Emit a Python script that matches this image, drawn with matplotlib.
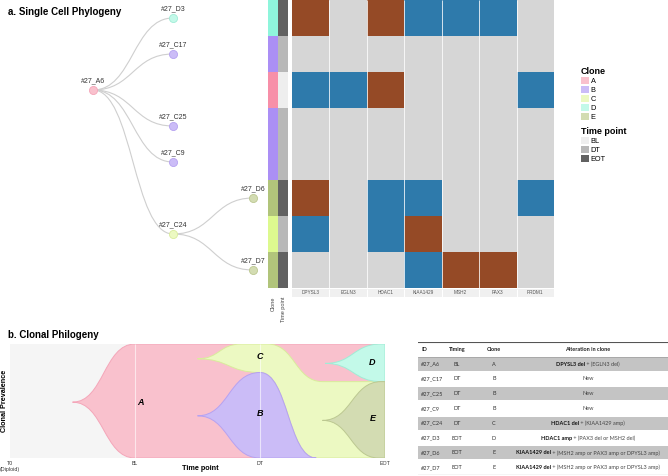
import numpy as np
import matplotlib
matplotlib.use("Agg")
import matplotlib.pyplot as plt
from matplotlib.path import Path
from matplotlib.patches import PathPatch, Patch
from matplotlib.colors import ListedColormap, to_rgb

plt.rcParams['font.family'] = ['Liberation Sans', 'DejaVu Sans']

W, H = 668, 476

# ---- single cell data (rows top to bottom) ----
cells = ["#27_D3", "#27_C17", "#27_A6", "#27_C25", "#27_C9", "#27_D6", "#27_C24", "#27_D7"]
cell_parent = ["#27_A6", "#27_A6", None, "#27_A6", "#27_A6", "#27_C24", "#27_A6", "#27_C24"]
cell_clone = ["D", "B", "A", "B", "B", "E", "C", "E"]
cell_time = ["EOT", "DT", "BL", "DT", "DT", "EOT", "DT", "EOT"]
genes = ["DPYSL3", "EGLN3", "HDAC1", "KIAA1429", "MSH2", "PAX3", "PRDM1"]
# 0 = neutral, 1 = amp (brown), 2 = del (blue)
cna = [
    [1, 0, 1, 2, 2, 2, 0],
    [0, 0, 0, 0, 0, 0, 0],
    [2, 2, 1, 0, 0, 0, 2],
    [0, 0, 0, 0, 0, 0, 0],
    [0, 0, 0, 0, 0, 0, 0],
    [1, 0, 2, 2, 0, 0, 2],
    [2, 0, 2, 1, 0, 0, 0],
    [0, 0, 0, 2, 1, 1, 0],
]

clones = ["A", "B", "C", "D", "E"]
timepoints = ["BL", "DT", "EOT"]
clone_col = {"A": "#f78fa8", "B": "#ab8ff5", "C": "#ddf98f", "D": "#8ff5dc", "E": "#b1c47b"}
clone_light = {"A": "#f9c1cd", "B": "#cbbcf7", "C": "#ecf9c2", "D": "#c3f9e9", "E": "#d3dcb2"}
clone_edge = {"A": "#f4a6b9", "B": "#b6a2f1", "C": "#d9ec9c", "D": "#a0ecd6", "E": "#bcc891"}
time_col = {"BL": "#eeeeee", "DT": "#b8b8b8", "EOT": "#616161"}

# ---- fish plot data (x: T0=0, BL=1, DT=2, EOT=3) ----
fish_ticks = ["T0\n(Diploid)", "BL", "DT", "EOT"]
fish_order = ["A", "C", "B", "D", "E"]
fish_top = {
    "A": [(0.5, 0.49), (1.0, 1.0), (3.0, 1.0)],
    "C": [(1.5, 0.87), (1.85, 1.0), (2.06, 1.0), (2.5, 0.67), (3.0, 0.67)],
    "B": [(1.5, 0.37), (2.0, 0.75), (2.45, 0.0)],
    "D": [(2.52, 0.83), (2.97, 1.0), (3.0, 1.0)],
    "E": [(2.5, 0.33), (2.97, 0.67), (3.0, 0.67)],
}
fish_bot = {
    "A": [(0.5, 0.49), (1.0, 0.0), (3.0, 0.0)],
    "C": [(1.5, 0.87), (2.0, 0.75), (2.45, 0.0), (3.0, 0.0)],
    "B": [(1.5, 0.37), (2.0, 0.0), (2.45, 0.0)],
    "D": [(2.52, 0.83), (2.97, 0.67), (3.0, 0.67)],
    "E": [(2.5, 0.33), (2.95, 0.0), (3.0, 0.0)],
}
fish_lbl_x = [1.04, 2.0, 2.0, 2.9, 2.9]
fish_lbl_y = [0.49, 0.39, 0.89, 0.84, 0.35]
fish_lbl = ["A", "B", "C", "D", "E"]

# ---- table data ----
tab_head = ["ID", "Timing", "Clone", "Alteration in clone"]
tab_id = ["#27_A6", "#27_C17", "#27_C25", "#27_C9", "#27_C24", "#27_D3", "#27_D6", "#27_D7"]
tab_timing = ["BL", "DT", "DT", "DT", "DT", "EOT", "EOT", "EOT"]
tab_clone = ["A", "B", "B", "B", "C", "D", "E", "E"]
alt_bold = ["DPYSL3 del", "", "", "", "HDAC1 del", "HDAC1 amp", "KIAA1429 del", "KIAA1429 del"]
alt_rest = [" + (EGLN3 del)", "New", "New", "New", " + (KIAA1429 amp)", " + (PAX3 del or MSH2 del)",
            " + (MSH2 amp or PAX3 amp or DPYSL3 amp)", " + (MSH2 amp or PAX3 amp or DPYSL3 amp)"]


def box(l, t, r, b):
    return [l / W, 1 - b / H, (r - l) / W, (b - t) / H]


def smooth_path(pts):
    verts = [pts[0]]
    codes = [Path.MOVETO]
    for (x0, y0), (x1, y1) in zip(pts[:-1], pts[1:]):
        xm = (x0 + x1) / 2
        verts += [(xm, y0), (xm, y1), (x1, y1)]
        codes += [Path.CURVE4] * 3
    return verts, codes


fig = plt.figure(figsize=(W / 100, H / 100), dpi=100)

fig.text(8 / W, 1 - 12 / H, "a. Single Cell Phylogeny", fontsize=7, weight="bold", va="center")
fig.text(8 / W, 1 - 335 / H, "b. Clonal Philogeny", fontsize=7, weight="bold", va="center")

# ---- tree ----
n = len(cells)
depth = []
for c in cells:
    d, p = 0, cell_parent[cells.index(c)]
    while p is not None:
        d += 1
        p = cell_parent[cells.index(p)]
    depth.append(d)

ax_t = fig.add_axes(box(0, 0, 268, 288))
ax_t.set_xlim(-93 / 80, (268 - 93) / 80)
ax_t.set_ylim(n - 0.5, -0.5)
ax_t.axis("off")
for i, c in enumerate(cells):
    p = cell_parent[i]
    if p is None:
        continue
    j = cells.index(p)
    v, cd = smooth_path([(depth[j], j), (depth[i], i)])
    ax_t.add_patch(PathPatch(Path(v, cd), fill=False, edgecolor="#cfcfcf", lw=0.8))
for i, c in enumerate(cells):
    ax_t.scatter(depth[i], i, s=34, color=clone_light[cell_clone[i]],
                 edgecolor=clone_edge[cell_clone[i]], lw=0.6, zorder=3)
    ax_t.annotate(c, (depth[i], i), xytext=(0, 7), textcoords="offset points",
                  ha="center", va="center", fontsize=5, color="#333333")

# ---- annotation columns ----
ax_a = fig.add_axes(box(268, 0, 288, 288))
ann = np.array([[to_rgb(clone_col[cell_clone[i]]), to_rgb(time_col[cell_time[i]])] for i in range(n)])
ax_a.imshow(ann, aspect="auto", interpolation="nearest")
ax_a.set_yticks([])
ax_a.set_xticks([0, 1], ["Clone", "Time point"], rotation=90, fontsize=4, color="#444444")
ax_a.tick_params(length=0, pad=6)
for s in ax_a.spines.values():
    s.set_visible(False)

# ---- heatmap ----
ax_h = fig.add_axes(box(292, 0, 554, 288))
cmap = ListedColormap(["#d6d6d6", "#954a26", "#2e7aab"])
ax_h.imshow(np.array(cna), cmap=cmap, vmin=0, vmax=2, aspect="auto", interpolation="nearest")
ax_h.vlines(np.arange(0.5, len(genes) - 0.5), -0.5, n - 0.5, color="white", lw=0.7, alpha=0.8)
ax_h.axis("off")

ax_g = fig.add_axes(box(292, 289, 554, 297))
ax_g.set_facecolor("#f0f0f0")
ax_g.set_xlim(-0.5, len(genes) - 0.5)
ax_g.set_ylim(0, 1)
ax_g.vlines(np.arange(0.5, len(genes) - 0.5), 0, 1, color="white", lw=0.8)
for k, g in enumerate(genes):
    ax_g.text(k, 0.5, g, ha="center", va="center", fontsize=3.4, color="#555555")
ax_g.set_xticks([])
ax_g.set_yticks([])
for s in ax_g.spines.values():
    s.set_visible(False)

# ---- legends ----
h1 = [Patch(facecolor=clone_light[c], edgecolor="none") for c in clones]
fig.legend(h1, clones, loc="upper left", bbox_to_anchor=(581 / W, 1 - 67 / H), frameon=False,
           fontsize=5.3, title="Clone", title_fontproperties={"weight": "bold", "size": 6.5},
           alignment="left", handlelength=1.1, handleheight=1.1, handletextpad=0.2,
           labelspacing=0.12, borderpad=0, borderaxespad=0)
h2 = [Patch(facecolor=time_col[t], edgecolor="none") for t in timepoints]
fig.legend(h2, timepoints, loc="upper left", bbox_to_anchor=(581 / W, 1 - 127 / H), frameon=False,
           fontsize=5.3, title="Time point", title_fontproperties={"weight": "bold", "size": 6.5},
           alignment="left", handlelength=1.1, handleheight=1.1, handletextpad=0.2,
           labelspacing=0.12, borderpad=0, borderaxespad=0)

# ---- fish plot ----
ax_f = fig.add_axes(box(10, 344, 385, 458))
ax_f.set_facecolor("#f5f5f5")
ax_f.set_xlim(0, 3)
ax_f.set_ylim(0, 1)
for c in fish_order:
    vt, ct = smooth_path(fish_top[c])
    vb, cb = smooth_path(fish_bot[c][::-1])
    cb[0] = Path.LINETO
    verts = vt + vb + [fish_top[c][0]]
    codes = ct + cb + [Path.CLOSEPOLY]
    ax_f.add_patch(PathPatch(Path(verts, codes), facecolor=clone_light[c],
                             edgecolor=clone_edge[c], lw=0.7))
ax_f.vlines([1, 2], 0, 1, color="white", lw=0.8, alpha=0.6)
for x, y, t in zip(fish_lbl_x, fish_lbl_y, fish_lbl):
    ax_f.text(x, y, t, ha="center", va="center", fontsize=6.5, weight="bold", style="italic")
ax_f.set_xticks(range(len(fish_ticks)), fish_ticks, fontsize=3.8, color="#333333", va="top")
ax_f.set_yticks([])
ax_f.tick_params(length=0, pad=2)
for s in ax_f.spines.values():
    s.set_visible(False)
ax_f.set_xlabel("Time point", fontsize=5.2, weight="bold")
ax_f.xaxis.set_label_coords(190 / 375, -0.065)
ax_f.set_ylabel("Clonal Prevalence", fontsize=5.2, weight="bold")
ax_f.yaxis.set_label_coords(-0.004, 0.5)

# ---- table ----
ax_tb = fig.add_axes(box(418, 342, 668, 475))
ax_tb.set_xlim(0, 1)
ax_tb.set_ylim(len(tab_id) + 1, 0)
ax_tb.axis("off")
col_x = [0.012, 0.156, 0.304, 0.68]
col_ha = ["left", "center", "center", "center"]
tfam = ["Lato", "DejaVu Sans"]
for x, t, ha in zip(col_x, tab_head, col_ha):
    ax_tb.text(x, 0.5, t, ha=ha, va="center", fontsize=4, weight="bold", family=tfam, color="#222222")
ax_tb.axhline(0, color="#555555", lw=0.8)
ax_tb.axhline(1, color="#999999", lw=0.6)
ax_tb.axhline(len(tab_id) + 1, color="#555555", lw=0.8)
bold_txt, rest_txt = [], []
for i in range(len(tab_id)):
    y = i + 1.5
    if i % 2 == 0:
        ax_tb.axhspan(i + 1.06, i + 1.94, color="#c4c4c4", lw=0)
    ax_tb.text(col_x[0], y, tab_id[i], ha="left", va="center", fontsize=4, family=tfam, color="#333333")
    ax_tb.text(col_x[1], y, tab_timing[i], ha="center", va="center", fontsize=4, family=tfam, color="#333333")
    ax_tb.text(col_x[2], y, tab_clone[i], ha="center", va="center", fontsize=4, family=tfam, color="#333333")
    tb = ax_tb.text(col_x[3], y, alt_bold[i], ha="left", va="center", fontsize=4, weight="bold",
                    family=tfam, color="#111111")
    tr = ax_tb.text(col_x[3], y, alt_rest[i], ha="left", va="center", fontsize=4, family=tfam,
                    color="#444444")
    bold_txt.append(tb)
    rest_txt.append(tr)

fig.canvas.draw()
r = fig.canvas.get_renderer()
axw = ax_tb.get_window_extent(r).width
for tb, tr in zip(bold_txt, rest_txt):
    wb = tb.get_window_extent(r).width / axw if tb.get_text() else 0
    wr = tr.get_window_extent(r).width / axw
    x0 = col_x[3] - (wb + wr) / 2
    tb.set_x(x0)
    tr.set_x(x0 + wb)

fig.savefig("out.png", dpi=100)
